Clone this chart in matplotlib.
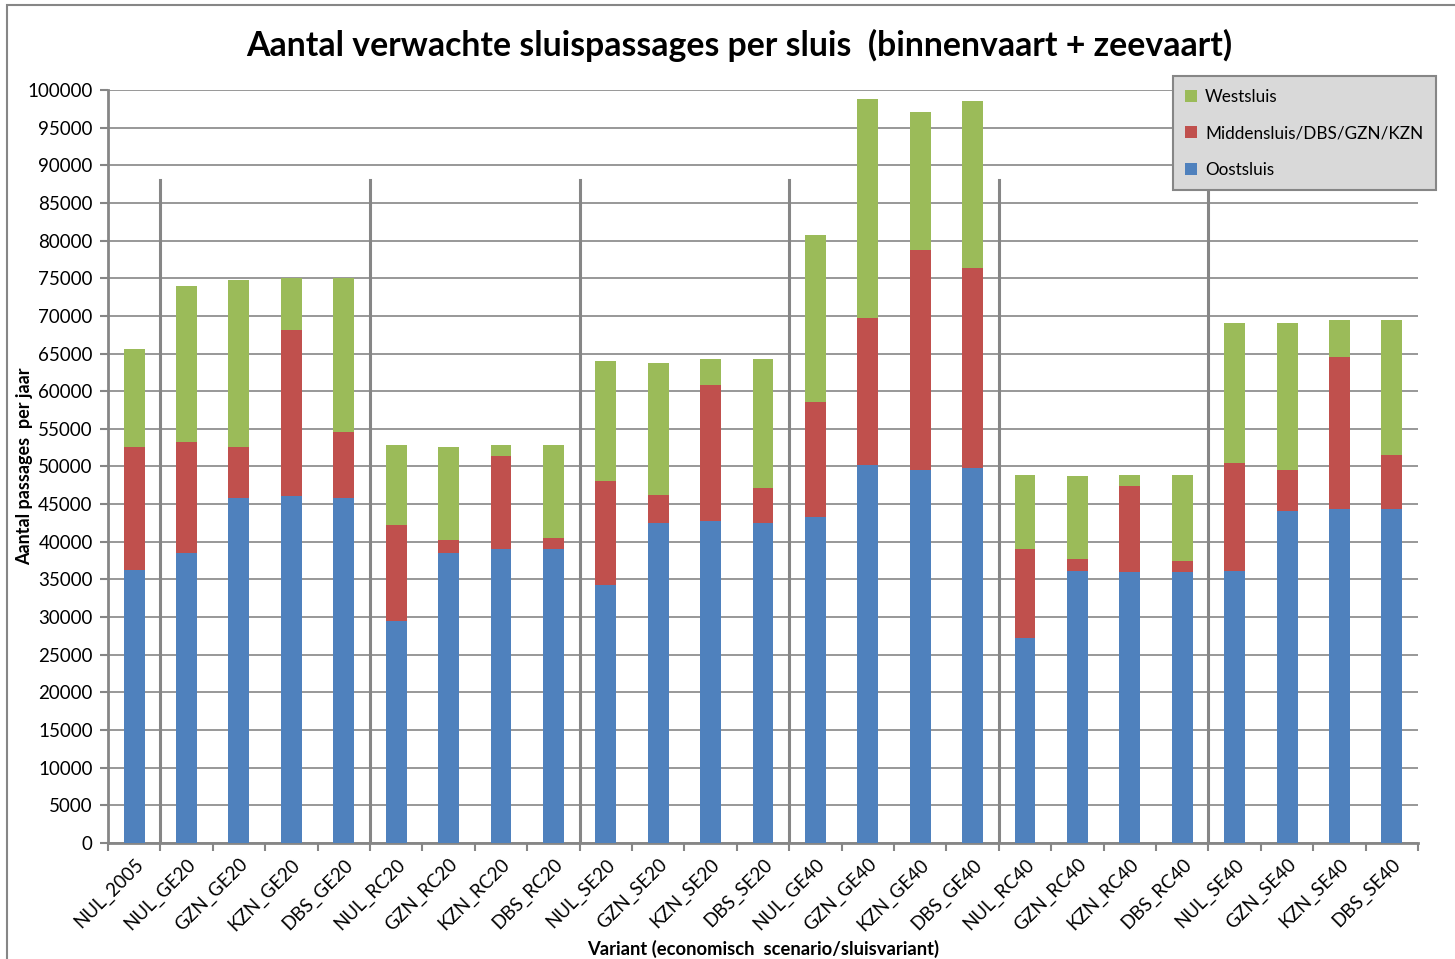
import numpy as np
import matplotlib.pyplot as plt
from matplotlib.patches import Rectangle

plt.rcParams['font.family'] = ['Lato', 'DejaVu Sans']

# data
varianten = ['NUL_2005', 'NUL_GE20', 'GZN_GE20', 'KZN_GE20', 'DBS_GE20',
             'NUL_RC20', 'GZN_RC20', 'KZN_RC20', 'DBS_RC20',
             'NUL_SE20', 'GZN_SE20', 'KZN_SE20', 'DBS_SE20',
             'NUL_GE40', 'GZN_GE40', 'KZN_GE40', 'DBS_GE40',
             'NUL_RC40', 'GZN_RC40', 'KZN_RC40', 'DBS_RC40',
             'NUL_SE40', 'GZN_SE40', 'KZN_SE40', 'DBS_SE40']
oostsluis = [36250, 38500, 45800, 46100, 45800,
             29500, 38500, 39000, 39000,
             34300, 42500, 42800, 42500,
             43300, 50200, 49500, 49800,
             27200, 36100, 36000, 36000,
             36100, 44100, 44400, 44400]
middensluis = [16350, 14800, 6800, 22000, 8800,
               12700, 1700, 12400, 1500,
               13800, 3700, 18000, 4600,
               15300, 19500, 29300, 26600,
               11800, 1600, 11400, 1500,
               14400, 5400, 20100, 7100]
westsluis = [13000, 20700, 22200, 6900, 20400,
             10700, 12400, 1500, 12400,
             15900, 17500, 3500, 17200,
             22100, 29100, 18300, 22100,
             9900, 11000, 1500, 11400,
             18600, 19600, 5000, 18000]
# group separators (between categories) and top of those lines
scheidingen = [0.5, 4.5, 8.5, 12.5, 16.5, 20.5]
scheiding_top = 88000

blauw = '#4f81bd'
rood = '#c0504d'
groen = '#9bbb59'
grijs = '#868686'

fig = plt.figure(figsize=(14.55, 9.59), dpi=100)
ax = fig.add_axes([0.0742, 0.121, 0.9004, 0.7852])

x = np.arange(len(varianten))
oost = np.array(oostsluis)
midden = np.array(middensluis)
west = np.array(westsluis)

ax.bar(x, oost, width=0.4, color=blauw, label='Oostsluis', zorder=3)
ax.bar(x, midden, width=0.4, bottom=oost, color=rood,
       label='Middensluis/DBS/GZN/KZN', zorder=3)
ax.bar(x, west, width=0.4, bottom=oost + midden, color=groen,
       label='Westsluis', zorder=3)

for s in scheidingen:
    ax.plot([s, s], [300, scheiding_top], color=grijs, lw=2.2, zorder=4)

ax.set_xlim(-0.5, len(varianten) - 0.5)
ax.set_ylim(0, 100000)
ax.set_yticks(np.arange(0, 100001, 5000))
ax.yaxis.grid(True, color=grijs, lw=1.2, zorder=0)
ax.set_axisbelow(True)

ax.set_xticks(x)
ax.set_xticklabels(varianten, rotation=45, ha='right', rotation_mode='anchor',
                   fontsize=13.5)
ax.set_xticks(np.arange(-0.5, len(varianten)), minor=True)
ax.tick_params(axis='x', which='major', length=0, pad=9)
ax.tick_params(axis='x', which='minor', length=6, color=grijs, width=1.5)
ax.tick_params(axis='y', length=6, color=grijs, width=1.5, labelsize=13.5,
               pad=5)

for side in ['top', 'right']:
    ax.spines[side].set_visible(False)
for side in ['left', 'bottom']:
    ax.spines[side].set_color(grijs)
    ax.spines[side].set_linewidth(2)

ax.set_ylabel('Aantal passages  per jaar', fontsize=13, fontweight='bold')
ax.yaxis.set_label_coords(-0.057, 0.5)
ax.set_xlabel('Variant (economisch  scenario/sluisvariant)', fontsize=13.2,
              fontweight='bold')
ax.xaxis.set_label_coords(0.5, -0.129)

fig.text(0.508, 0.953, 'Aantal verwachte sluispassages per sluis  (binnenvaart + zeevaart)',
         ha='center', va='center', fontsize=24.3, fontweight='bold')

handles, labels = ax.get_legend_handles_labels()
leg = fig.legend(handles[::-1], labels[::-1], loc='upper right',
                 bbox_to_anchor=(0.987, 0.921), fontsize=12.3,
                 frameon=True, fancybox=False, handlelength=0.7,
                 handleheight=0.7, labelspacing=1.2, borderpad=0.75,
                 handletextpad=0.45, borderaxespad=0)
leg.get_frame().set_facecolor('#d9d9d9')
leg.get_frame().set_edgecolor(grijs)
leg.get_frame().set_linewidth(1.5)
leg.get_frame().set_alpha(1)

# chart border
fig.patches.append(Rectangle((0.005, -0.01), 1.1, 1.005,
                             transform=fig.transFigure, fill=False,
                             edgecolor=grijs, lw=1.5))

fig.savefig('out.png', dpi=100)
